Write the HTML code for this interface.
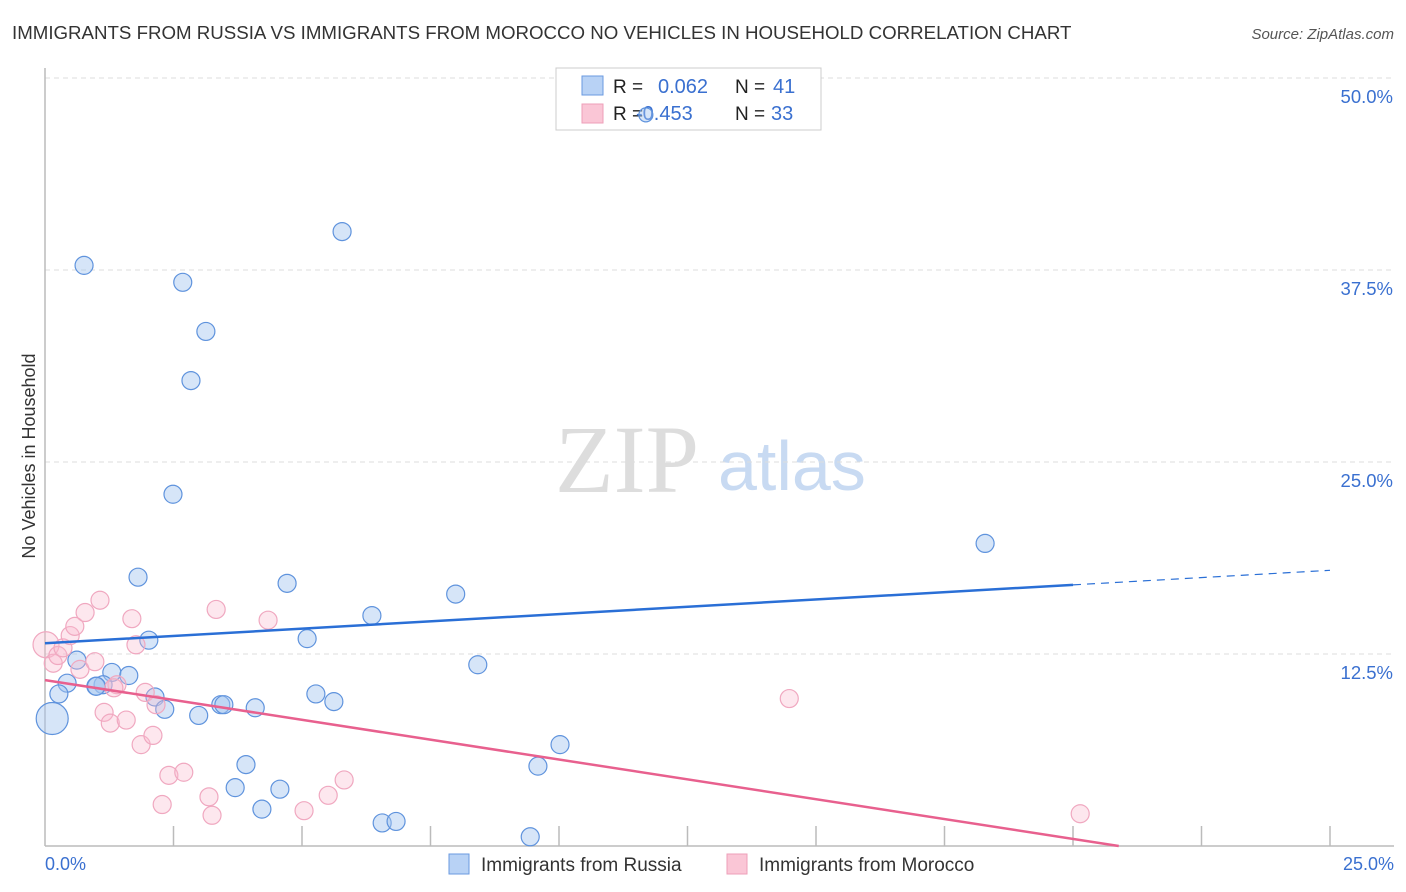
<!DOCTYPE html>
<html><head><meta charset="utf-8"><style>
body{margin:0;background:#fff;font-family:"Liberation Sans",sans-serif;}
</style></head><body>
<svg width="1406" height="892" style="display:block">
<text x="12" y="39" font-size="18.7" fill="#333">IMMIGRANTS FROM RUSSIA VS IMMIGRANTS FROM MOROCCO NO VEHICLES IN HOUSEHOLD CORRELATION CHART</text>
<text x="1394" y="39" font-size="15" fill="#555" font-style="italic" text-anchor="end">Source: ZipAtlas.com</text>
<text x="35" y="456" font-size="18" fill="#333" text-anchor="middle" transform="rotate(-90 35 456)">No Vehicles in Household</text>
<text x="555" y="492" font-size="96" fill="#ddd" font-family="Liberation Serif,serif">ZIP</text>
<text x="718" y="490" font-size="70" fill="#c8daf2">atlas</text>
<g id="grid"></g><g id="axes"></g>
<g>
<rect x="556" y="68" width="265" height="62" fill="#fff" stroke="#ccc"/>
<rect x="582" y="76" width="21" height="19" fill="#b8d2f5" stroke="#6a9ae0"/>
<rect x="582" y="104" width="21" height="19" fill="#fac6d6" stroke="#ee9fb8"/>
<text x="613" y="93" font-size="19" fill="#222">R = </text><text x="658" y="93" font-size="20" fill="#3a70d0">0.062</text>
<text x="735" y="93" font-size="19" fill="#222">N = </text><text x="773" y="93" font-size="20" fill="#3a70d0">41</text>
<text x="613" y="120" font-size="19" fill="#222">R = </text><text x="636" y="120" font-size="20" fill="#3a70d0">-0.453</text>
<text x="735" y="120" font-size="19" fill="#222">N = </text><text x="771" y="120" font-size="20" fill="#3a70d0">33</text>
</g>
<g id="pts"></g><g id="lines"></g>
<g>
<rect x="449" y="854" width="20" height="20" fill="#b8d2f5" stroke="#6a9ae0"/>
<text x="481" y="871" font-size="19" fill="#333">Immigrants from Russia</text>
<rect x="727" y="854" width="20" height="20" fill="#fac6d6" stroke="#ee9fb8"/>
<text x="759" y="871" font-size="19" fill="#333">Immigrants from Morocco</text>
</g>
</svg>
<script>
const yTicks=[12.5,25,37.5,50];
const yTickLabels=["12.5%","25.0%","37.5%","50.0%"];
const xLabels=["0.0%","25.0%"];
const russiaX=[0.76,2.68,5.78,3.13,2.84,2.49,18.29,1.81,4.71,7.99,6.36,2.02,5.10,0.62,8.42,1.30,1.63,0.43,1.13,0.99,0.27,2.14,5.27,5.62,2.33,3.42,3.48,4.09,2.99,0.14,10.02,3.91,9.59,3.70,4.57,4.22,6.56,6.83,9.44,11.69,1.0];
const russiaY=[37.8,36.7,40.0,33.5,30.3,22.9,19.7,17.5,17.1,16.4,15.0,13.4,13.5,12.1,11.8,11.3,11.1,10.6,10.5,10.4,9.9,9.7,9.9,9.4,8.9,9.2,9.2,9.0,8.5,8.3,6.6,5.3,5.2,3.8,3.7,2.4,1.5,1.6,0.6,47.6,10.4];
const moroccoX=[0.02,0.16,0.25,0.35,0.49,0.58,0.78,1.07,0.68,0.97,1.40,1.34,1.69,1.77,1.95,2.16,1.15,1.27,1.58,1.87,2.10,2.41,2.28,2.70,3.19,3.25,3.33,4.34,5.04,5.51,5.82,14.48,20.14];
const moroccoY=[13.1,11.9,12.4,12.9,13.7,14.3,15.2,16.0,11.5,12.0,10.5,10.3,14.8,13.1,10.0,9.2,8.7,8.0,8.2,6.6,7.2,4.6,2.7,4.8,3.2,2.0,15.4,14.7,2.3,3.3,4.3,9.6,2.1];
const russiaLine=[13.2,17.0];
const moroccoLine=[10.8,0.46];
const NS="http://www.w3.org/2000/svg";
const X=v=>45+v*51.4, Y=v=>846-v*15.36;
function mk(tag,attrs,parent){const e=document.createElementNS(NS,tag);for(const k in attrs)e.setAttribute(k,attrs[k]);document.getElementById(parent).appendChild(e);return e;}
yTicks.forEach((t,i)=>{
 const g=mk('line',{x1:45,x2:1394,y1:Y(t),y2:Y(t),stroke:'#ddd','stroke-dasharray':'5,4'},'grid');
 
 
 const l=mk('text',{x:1393,y:Y(t)+25,'font-size':18.5,fill:'#3a70d0','text-anchor':'end'},'grid');
 l.textContent=yTickLabels[i];
 
 
});
const ax=mk('line',{x1:45,x2:45,y1:68,y2:846,stroke:'#bbb','stroke-width':1.5},'axes');


const bx=mk('line',{x1:45,x2:1394,y1:846,y2:846,stroke:'#bbb','stroke-width':1.5},'axes');


for(let i=1;i<=10;i++){const t=mk('line',{x1:X(i*2.5),x2:X(i*2.5),y1:826,y2:846,stroke:'#bbb','stroke-width':1.5},'axes');
 
 }
[[0,45,'start'],[25,1394,'end']].forEach((a,i)=>{const t=mk('text',{x:a[1],y:870,'font-size':18,fill:'#3a70d0','text-anchor':a[2]},'axes');t.textContent=xLabels[i];
 
 });
russiaX.forEach((x,i)=>{const c=mk('circle',{cx:X(x),cy:Y(russiaY[i]),r:(i==29?16:(i==39?7:9)),fill:'rgba(165,198,240,0.45)',stroke:'#5f93dd','stroke-width':1.2},'pts');
 
 });
moroccoX.forEach((x,i)=>{const c=mk('circle',{cx:X(x),cy:Y(moroccoY[i]),r:(i==0?13:9),fill:'rgba(248,185,205,0.35)',stroke:'#f0a8c0','stroke-width':1.2},'pts');
 
 });
const rl=mk('line',{x1:X(0),y1:Y(russiaLine[0]),x2:X(20),y2:Y(russiaLine[1]),stroke:'#2a6fd6','stroke-width':2.5},'lines');


const slope=(russiaLine[1]-russiaLine[0])/20;
const rd=mk('line',{x1:X(20),y1:Y(russiaLine[1]),x2:X(25),y2:Y(russiaLine[1]+slope*5),stroke:'#2a6fd6','stroke-width':1.2,'stroke-dasharray':'8,6'},'lines');


const ms=(moroccoLine[1]-moroccoLine[0])/20, xe=-moroccoLine[0]/ms;
const ml=mk('line',{x1:X(0),y1:Y(moroccoLine[0]),x2:X(xe),y2:Y(0),stroke:'#e8608e','stroke-width':2.5},'lines');


</script>
</body></html>
